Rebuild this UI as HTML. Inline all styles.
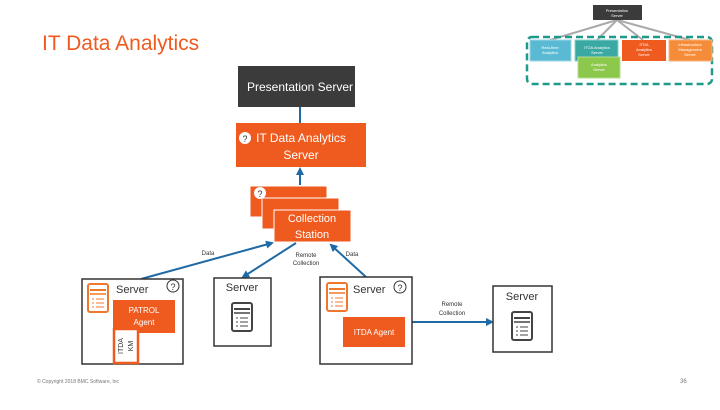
<!DOCTYPE html>
<html><head><meta charset="utf-8"><style>
body{margin:0;width:720px;height:405px;background:#fff;overflow:hidden;font-family:"Liberation Sans",sans-serif}
</style></head><body>
<svg width="720" height="405" xmlns="http://www.w3.org/2000/svg" font-family="Liberation Sans, sans-serif">
<defs>
<marker id="a" markerWidth="8" markerHeight="8" refX="6" refY="4" orient="auto" markerUnits="userSpaceOnUse"><path d="M0,0 L8,4 L0,8 z" fill="#1f6aa5"/></marker>
<g id="srv"><rect x="0" y="0" width="20" height="28" rx="2" fill="#fff" stroke="#444" stroke-width="2"/><line x1="2" y1="6" x2="18" y2="6" stroke="#444" stroke-width="2"/><line x1="2" y1="10" x2="18" y2="10" stroke="#444" stroke-width="1.5"/><line x1="4" y1="15" x2="6" y2="15" stroke="#444"/><line x1="8" y1="15" x2="16" y2="15" stroke="#444"/><line x1="4" y1="19" x2="6" y2="19" stroke="#444"/><line x1="8" y1="19" x2="16" y2="19" stroke="#444"/><line x1="4" y1="23" x2="6" y2="23" stroke="#444"/><line x1="8" y1="23" x2="16" y2="23" stroke="#444"/></g>
<g id="osrv"><rect x="0" y="0" width="20" height="28" rx="2" fill="#fff" stroke="#f0782e" stroke-width="2"/><line x1="2" y1="6" x2="18" y2="6" stroke="#f0782e" stroke-width="2"/><line x1="2" y1="10" x2="18" y2="10" stroke="#f0782e" stroke-width="1.5"/><line x1="4" y1="15" x2="6" y2="15" stroke="#f0782e"/><line x1="8" y1="15" x2="16" y2="15" stroke="#f0782e"/><line x1="4" y1="19" x2="6" y2="19" stroke="#f0782e"/><line x1="8" y1="19" x2="16" y2="19" stroke="#f0782e"/><line x1="4" y1="23" x2="6" y2="23" stroke="#f0782e"/><line x1="8" y1="23" x2="16" y2="23" stroke="#f0782e"/></g>
</defs>
<text x="42" y="50" font-size="21" fill="#ef5a1f">IT Data Analytics</text>

<g stroke="#aaa" stroke-width="2"><line x1="617" y1="20" x2="550" y2="40"/><line x1="617" y1="20" x2="597" y2="40"/><line x1="617" y1="20" x2="643" y2="40"/><line x1="617" y1="20" x2="690" y2="40"/></g>
<rect x="593" y="5" width="49" height="15" fill="#3b3b3b"/>
<text x="617" y="12" font-size="4" fill="#fff" text-anchor="middle">Presentation</text><text x="617" y="17" font-size="4" fill="#fff" text-anchor="middle">Server</text>
<rect x="527" y="37" width="185" height="47" rx="5" fill="none" stroke="#1f9a8a" stroke-width="2.5" stroke-dasharray="7,4"/>
<rect x="530" y="40" width="41" height="21" fill="#5bbad3" stroke="#9dd6e5"/>
<rect x="575" y="40" width="43" height="21" fill="#3aa9a3" stroke="#8fd0cc"/>
<rect x="578" y="57" width="42" height="21" fill="#8cc84b" stroke="#b9dd90"/>
<rect x="622" y="40" width="44" height="21" fill="#ef5a1f"/>
<rect x="669" y="40" width="43" height="21" fill="#f58c3a" stroke="#f8b581"/>
<g font-size="4" fill="#fff" text-anchor="middle"><text x="550" y="49">Real-time</text><text x="550" y="54">Analytics</text><text x="597" y="49">ITOA Analytics</text><text x="597" y="54">Server</text><text x="599" y="66">Analytics</text><text x="599" y="71">Server</text><text x="644" y="46">ITDA</text><text x="644" y="51">Analytics</text><text x="644" y="56">Server</text><text x="690" y="46">Infrastructure</text><text x="690" y="51">Management</text><text x="690" y="56">Server</text></g>

<rect x="238" y="66" width="117" height="41" fill="#3b3b3b"/>
<text x="300" y="91" font-size="12" fill="#fff" text-anchor="middle">Presentation Server</text>
<line x1="300" y1="107" x2="300" y2="123" stroke="#1f6aa5" stroke-width="2"/>
<rect x="236" y="123" width="130" height="44" fill="#ef5a1f"/>
<circle cx="245" cy="138" r="6" fill="#fff"/><text x="245" y="142" font-size="9" text-anchor="middle" fill="#333">?</text>
<text x="301" y="142" font-size="12" fill="#fff" text-anchor="middle">IT Data Analytics</text>
<text x="301" y="159" font-size="12" fill="#fff" text-anchor="middle">Server</text>
<line x1="300" y1="185" x2="300" y2="169" stroke="#1f6aa5" stroke-width="2" marker-end="url(#a)"/>

<rect x="250" y="186" width="77" height="31" fill="#ef5a1f" stroke="#fff"/>
<circle cx="260" cy="193" r="6" fill="#fff"/><text x="260" y="197" font-size="9" text-anchor="middle" fill="#333">?</text>
<rect x="262" y="198" width="77" height="31" fill="#ef5a1f" stroke="#fff"/>
<rect x="274" y="210" width="77" height="32" fill="#ef5a1f" stroke="#fff"/>
<text x="312" y="222" font-size="11" fill="#fff" text-anchor="middle">Collection</text>
<text x="312" y="238" font-size="11" fill="#fff" text-anchor="middle">Station</text>

<g stroke="#1f6aa5" stroke-width="2">
<line x1="141" y1="279" x2="272" y2="243" marker-end="url(#a)"/>
<line x1="296" y1="243" x2="243" y2="277" marker-end="url(#a)"/>
<line x1="366" y1="277" x2="331" y2="245" marker-end="url(#a)"/>
<line x1="412" y1="322" x2="492" y2="322" marker-end="url(#a)"/>
</g>
<g font-size="6" fill="#333" text-anchor="middle"><text x="208" y="255">Data</text><text x="306" y="257">Remote</text><text x="306" y="265">Collection</text><text x="352" y="256">Data</text><text x="452" y="306">Remote</text><text x="452" y="315">Collection</text></g>

<rect x="82" y="279" width="101" height="85" fill="#fff" stroke="#333" stroke-width="1.5"/>
<use href="#osrv" x="88" y="284"/>
<text x="116" y="293" font-size="11" fill="#333">Server</text>
<circle cx="173" cy="286" r="6" fill="none" stroke="#333"/><text x="173" y="290" font-size="9" text-anchor="middle" fill="#333">?</text>
<rect x="113" y="300" width="62" height="33" fill="#ef5a1f"/>
<text x="144" y="313" font-size="8" fill="#fff" text-anchor="middle">PATROL</text>
<text x="144" y="325" font-size="8" fill="#fff" text-anchor="middle">Agent</text>
<rect x="114" y="329" width="24" height="34" fill="#fff" stroke="#ef5a1f" stroke-width="2.5"/>
<text transform="translate(123,346) rotate(-90)" font-size="7" fill="#333" text-anchor="middle">ITDA</text>
<text transform="translate(133,346) rotate(-90)" font-size="7" fill="#333" text-anchor="middle">KM</text>

<rect x="214" y="278" width="57" height="68" fill="#fff" stroke="#333" stroke-width="1.5"/>
<text x="242" y="291" font-size="11" fill="#333" text-anchor="middle">Server</text>
<use href="#srv" x="232" y="303"/>

<rect x="320" y="277" width="92" height="87" fill="#fff" stroke="#333" stroke-width="1.5"/>
<use href="#osrv" x="327" y="283"/>
<text x="353" y="293" font-size="11" fill="#333">Server</text>
<circle cx="400" cy="287" r="6" fill="none" stroke="#333"/><text x="400" y="291" font-size="9" text-anchor="middle" fill="#333">?</text>
<rect x="343" y="317" width="62" height="30" fill="#ef5a1f"/>
<text x="374" y="335" font-size="8" fill="#fff" text-anchor="middle">ITDA Agent</text>

<rect x="493" y="286" width="59" height="66" fill="#fff" stroke="#333" stroke-width="1.5"/>
<text x="522" y="300" font-size="11" fill="#333" text-anchor="middle">Server</text>
<use href="#srv" x="512" y="312"/>

<text x="37" y="383" font-size="5" fill="#777">© Copyright 2018 BMC Software, Inc</text>
<text x="680" y="383" font-size="6" fill="#777">36</text>
</svg>
</body></html>
